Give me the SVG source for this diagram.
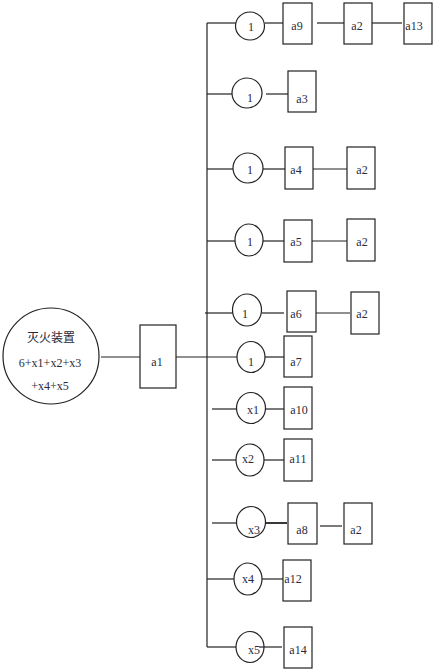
<svg xmlns="http://www.w3.org/2000/svg" width="436" height="672" viewBox="0 0 436 672">
<style>
.ln{stroke:#222;stroke-width:1.2;fill:none}
.bx{stroke:#222;stroke-width:1.2;fill:#fff}
.t{font-family:"Liberation Serif","Noto Sans CJK SC",serif;font-size:12px;fill:#2a2a3a;text-anchor:middle;dominant-baseline:central}
</style>
<rect width="436" height="672" fill="#fff"/>
<g id="connectors">
<line class="ln" x1="207" y1="23" x2="207" y2="647"/>
<line class="ln" x1="101" y1="357" x2="140" y2="357"/>
<line class="ln" x1="171" y1="357" x2="237" y2="357"/>
<line class="ln" x1="207" y1="23" x2="236" y2="23"/>
<line class="ln" x1="265" y1="23" x2="290" y2="23"/>
<line class="ln" x1="317" y1="23" x2="344" y2="23"/>
<line class="ln" x1="372" y1="23" x2="402" y2="23"/>
<line class="ln" x1="207" y1="94" x2="233" y2="94"/>
<line class="ln" x1="266" y1="94" x2="288" y2="94"/>
<line class="ln" x1="207" y1="169" x2="233" y2="169"/>
<line class="ln" x1="262" y1="169" x2="285" y2="169"/>
<line class="ln" x1="313" y1="169" x2="347" y2="169"/>
<line class="ln" x1="207" y1="241" x2="235" y2="241"/>
<line class="ln" x1="263" y1="241" x2="284" y2="241"/>
<line class="ln" x1="312" y1="241" x2="347" y2="241"/>
<line class="ln" x1="205" y1="313" x2="233" y2="313"/>
<line class="ln" x1="262" y1="313" x2="284" y2="313"/>
<line class="ln" x1="314" y1="313" x2="350" y2="313"/>
<line class="ln" x1="265" y1="357" x2="284" y2="357"/>
<line class="ln" x1="212" y1="409" x2="237" y2="409"/>
<line class="ln" x1="266" y1="409" x2="284" y2="409"/>
<line class="ln" x1="212" y1="460" x2="236" y2="460"/>
<line class="ln" x1="264" y1="460" x2="284" y2="460"/>
<line class="ln" x1="212" y1="523" x2="237" y2="523"/>
<line class="ln" x1="266" y1="523" x2="287" y2="523" style="stroke-width:1.8"/>
<line class="ln" x1="320" y1="526" x2="342" y2="526"/>
<line class="ln" x1="207" y1="579" x2="234" y2="579"/>
<line class="ln" x1="262" y1="579" x2="283" y2="579"/>
<line class="ln" x1="207" y1="647" x2="236" y2="647"/>
<line class="ln" x1="260" y1="647" x2="282" y2="647"/>
</g>
<g id="root"><circle class="bx" cx="51" cy="356" r="48"/><text class="t" x="51" y="338">灭火装置</text><text class="t" x="50" y="363">6+x1+x2+x3</text><text class="t" x="50" y="386">+x4+x5</text></g>
<g id="a1"><rect class="bx" x="140" y="325" width="36" height="63"/><text class="t" x="157" y="362">a1</text></g>
<g id="c1"><ellipse class="bx" cx="250" cy="26" rx="14.5" ry="14"/><text class="t" x="251" y="27">1</text></g>
<g id="a9"><rect class="bx" x="283" y="3" width="29" height="41"/><text class="t" x="297" y="26">a9</text></g>
<g id="a2_1"><rect class="bx" x="344" y="3" width="28" height="41"/><text class="t" x="357" y="26">a2</text></g>
<g id="a13"><rect class="bx" x="404" y="3" width="28" height="41"/><text class="t" x="414" y="26">a13</text></g>
<g id="c2"><circle class="bx" cx="247" cy="93" r="15"/><text class="t" x="250" y="98">1</text></g>
<g id="a3"><rect class="bx" x="288" y="71" width="28" height="41"/><text class="t" x="302" y="99">a3</text></g>
<g id="c3"><circle class="bx" cx="248" cy="168" r="15"/><text class="t" x="250" y="170">1</text></g>
<g id="a4"><rect class="bx" x="285" y="147" width="28" height="42"/><text class="t" x="296" y="170">a4</text></g>
<g id="a2_3"><rect class="bx" x="347" y="147" width="28" height="42"/><text class="t" x="362" y="170">a2</text></g>
<g id="c4"><ellipse class="bx" cx="249" cy="240" rx="14" ry="16"/><text class="t" x="250" y="242">1</text></g>
<g id="a5"><rect class="bx" x="284" y="220" width="28" height="42"/><text class="t" x="296" y="242">a5</text></g>
<g id="a2_4"><rect class="bx" x="347" y="219" width="28" height="42"/><text class="t" x="362" y="242">a2</text></g>
<g id="c5"><ellipse class="bx" cx="247" cy="310" rx="14.5" ry="16"/><text class="t" x="245" y="314">1</text></g>
<g id="a6"><rect class="bx" x="287" y="291" width="29" height="41"/><text class="t" x="296" y="314">a6</text></g>
<g id="a2_5"><rect class="bx" x="351" y="292" width="28" height="42"/><text class="t" x="362" y="314">a2</text></g>
<g id="c6"><ellipse class="bx" cx="251" cy="357" rx="14" ry="15.5"/><text class="t" x="251" y="362">1</text></g>
<g id="a7"><rect class="bx" x="284" y="336" width="28" height="41"/><text class="t" x="296" y="362">a7</text></g>
<g id="x1"><ellipse class="bx" cx="251" cy="408" rx="14.5" ry="15.5"/><text class="t" x="253" y="410">x1</text></g>
<g id="a10"><rect class="bx" x="284" y="387" width="28" height="42"/><text class="t" x="299" y="410">a10</text></g>
<g id="x2"><ellipse class="bx" cx="250" cy="460" rx="14" ry="16"/><text class="t" x="248" y="459">x2</text></g>
<g id="a11"><rect class="bx" x="284" y="439" width="28" height="42"/><text class="t" x="298" y="459">a11</text></g>
<g id="x3"><ellipse class="bx" cx="251" cy="522" rx="14.5" ry="15.5"/><text class="t" x="254" y="530">x3</text></g>
<g id="a8"><rect class="bx" x="288" y="503" width="29" height="41"/><text class="t" x="302" y="530">a8</text></g>
<g id="a2_9"><rect class="bx" x="344" y="503" width="28" height="41"/><text class="t" x="356" y="530">a2</text></g>
<g id="x4"><ellipse class="bx" cx="248" cy="579" rx="14" ry="16"/><text class="t" x="248" y="579">x4</text></g>
<g id="a12"><rect class="bx" x="283" y="560" width="28" height="41"/><text class="t" x="293" y="579">a12</text></g>
<g id="x5"><ellipse class="bx" cx="250" cy="647" rx="14" ry="15.5"/><text class="t" x="254" y="650">x5</text></g>
<g id="a14"><rect class="bx" x="284" y="627" width="28" height="41"/><text class="t" x="298" y="650">a14</text></g>
<line class="ln" x1="259" y1="647" x2="264" y2="647"/>
</svg>
